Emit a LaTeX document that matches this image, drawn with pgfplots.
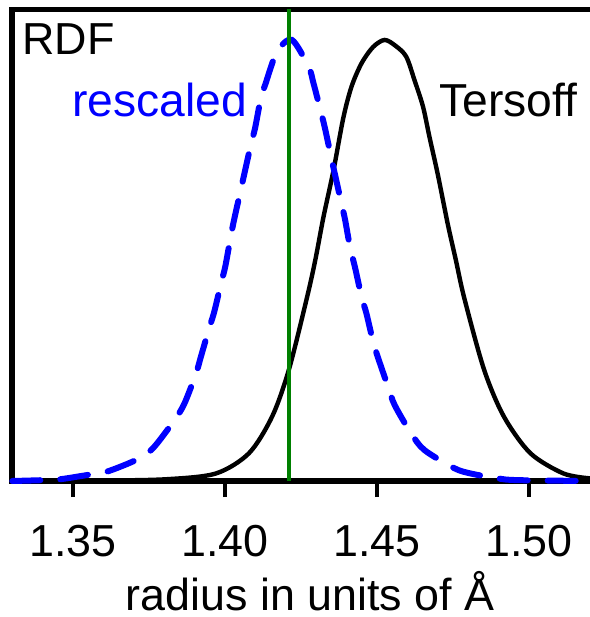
\documentclass[border=0pt]{standalone}
\usepackage{fontspec}
\setmainfont{Liberation Sans}
\usepackage{pgfplots}
\pgfplotsset{compat=1.18}
\definecolor{rdfBlue}{HTML}{0000FF}
\definecolor{rdfGreen}{HTML}{008000}
\newcommand{\bigfont}{\fontsize{22.5}{26}\selectfont}
\newcommand{\labfont}{\fontsize{23.2}{27}\selectfont}

\begin{document}
\begin{tikzpicture}
\path[use as bounding box] (-6bp,-68bp) rectangle (289bp,240.5bp);
\begin{axis}[
  at={(0,0)}, anchor=south west,
  scale only axis, width=289bp, height=235.75bp,
  xmin=1.33, xmax=1.52, ymin=0, ymax=1.069,
  xtick={1.35,1.40,1.45,1.50},
  xticklabels={1.35,1.40,1.45,1.50},
  ytick=\empty, xtick pos=bottom,
  tick align=outside, major tick length=8bp,
  every tick/.style={black,line width=2bp},
  axis line style={draw=none},
  tick label style={font=\bigfont},
  xticklabel style={anchor=base,yshift=-29.5bp},
  xlabel={radius in units of Å},
  xlabel style={at={(rel axis cs:0.5156,0)},anchor=base,yshift=-64.5bp,
    inner sep=0pt,font=\bigfont},
  clip=false,
]
% frame: left, top, bottom (right side cropped in the original)
\draw[black,line width=2.7bp,line join=miter]
  (rel axis cs:1,1) -- (rel axis cs:0,1) -- (rel axis cs:0,0) -- (rel axis cs:1,0);

% Tersoff
\addplot[black,line width=2.2bp,smooth,tension=0.5,mark=none] coordinates {
 (1.3300,0.000) (1.3600,0.001) (1.3807,0.004) (1.3970,0.017) (1.4079,0.063)
 (1.4155,0.146) (1.4210,0.252) (1.4269,0.414) (1.4297,0.501) (1.4324,0.599)
 (1.4357,0.705) (1.4389,0.823) (1.4416,0.894) (1.4449,0.947) (1.4487,0.984)
 (1.4525,1.000) (1.4562,0.986) (1.4596,0.962) (1.4623,0.909) (1.4651,0.849)
 (1.4672,0.781) (1.4700,0.694) (1.4732,0.584) (1.4759,0.501) (1.4787,0.414)
 (1.4852,0.252) (1.4917,0.146) (1.5004,0.063) (1.5113,0.017) (1.5200,0.006)};

% rescaled
\addplot[rdfBlue,line width=3bp,line cap=round,dash pattern=on 14bp off 10bp,
  smooth,tension=0.5,mark=none] coordinates {
 (1.3301,0.000) (1.3404,0.002) (1.3459,0.004) (1.3551,0.014) (1.3611,0.021)
 (1.3709,0.048) (1.3763,0.074) (1.3834,0.138) (1.3867,0.176) (1.3905,0.244)
 (1.3921,0.282) (1.3948,0.346) (1.3965,0.384) (1.3987,0.448) (1.4001,0.486)
 (1.4019,0.554) (1.4030,0.592) (1.4052,0.660) (1.4063,0.694) (1.4085,0.762)
 (1.4099,0.800) (1.4117,0.864) (1.4134,0.902) (1.4171,0.973) (1.4220,1.000)
 (1.4275,0.939) (1.4291,0.902) (1.4318,0.830) (1.4330,0.796) (1.4351,0.728)
 (1.4362,0.694) (1.4384,0.626) (1.4395,0.592) (1.4411,0.531) (1.4427,0.486)
 (1.4449,0.418) (1.4465,0.380) (1.4487,0.316) (1.4504,0.278) (1.4536,0.214)
 (1.4558,0.172) (1.4612,0.108) (1.4656,0.070) (1.4754,0.029) (1.4808,0.017)
 (1.4896,0.006) (1.4961,0.002) (1.5200,0.000)};

% reference bond length
\addplot[rdfGreen,line width=1.7bp,mark=none] coordinates {(1.421,0) (1.421,1.069)};
\end{axis}
\node[anchor=base west,inner sep=0pt,font=\bigfont] at (5bp,213bp) {RDF};
\node[anchor=base west,inner sep=0pt,font=\labfont,text=rdfBlue] at (30bp,182bp) {rescaled};
\node[anchor=base west,inner sep=0pt,font=\labfont] at (213.5bp,182bp) {Tersoff};
\end{tikzpicture}
\end{document}
